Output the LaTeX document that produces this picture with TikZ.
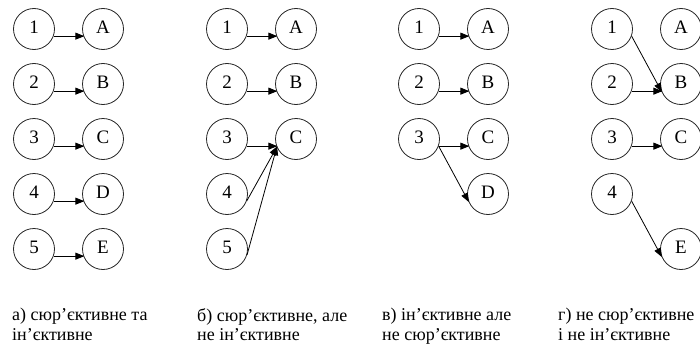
\documentclass[tikz,border=0pt]{standalone}
\usepackage{fontspec}
\setmainfont{Liberation Serif}
\usepackage{tikz}
\usetikzlibrary{arrows.meta}

\begin{document}
\begin{tikzpicture}[x=1pt,y=-1pt,
        elem/.style={circle, draw=black!85, line width=0.8pt, minimum size=41pt, inner sep=0pt,
          font=\fontsize{19}{19}\selectfont, text height=13pt, text depth=4pt},
        map/.style={-{Triangle[length=9pt,width=7pt]}, line width=0.8pt, shorten >=-1pt},
        note/.style={anchor=north west, inner sep=0pt, align=left, font=\fontsize{18}{19.5}\selectfont}]
        \clip (0,0) rectangle (700,345);
        % a) surjective and injective
        \node[elem] (a1) at (34,29) {1};
        \node[elem] (a2) at (34,84) {2};
        \node[elem] (a3) at (34,139) {3};
        \node[elem] (a4) at (34,194) {4};
        \node[elem] (a5) at (34,249) {5};
        \node[elem] (aA) at (103,29) {A};
        \node[elem] (aB) at (103,84) {B};
        \node[elem] (aC) at (103,139) {C};
        \node[elem] (aD) at (103,194) {D};
        \node[elem] (aE) at (103,249) {E};
        \draw[map] (a1.-20) -- (aA.200);
        \draw[map] (a2.-20) -- (aB.200);
        \draw[map] (a3.-20) -- (aC.200);
        \draw[map] (a4.-20) -- (aD.200);
        \draw[map] (a5.-20) -- (aE.200);
        \node[note] (na) at (12,308) {а) сюр’єктивне та\\ін’єктивне};
        % b) surjective, not injective
        \node[elem] (b1) at (227,29) {1};
        \node[elem] (b2) at (227,84) {2};
        \node[elem] (b3) at (227,139) {3};
        \node[elem] (b4) at (227,194) {4};
        \node[elem] (b5) at (227,249) {5};
        \node[elem] (bA) at (296,29) {A};
        \node[elem] (bB) at (296,84) {B};
        \node[elem] (bC) at (296,139) {C};
        \draw[map] (b1.-20) -- (bA.200);
        \draw[map] (b2.-20) -- (bB.200);
        \draw[map] (b3.-20) -- (bC.200);
        \draw[map] (b4.-20) -- (bC.203);
        \draw[map] (b5.-17) -- (bC.203);
        \node[note] (nb) at (197,308) {б) сюр’єктивне, але\\не ін’єктивне};
        % c) injective, not surjective
        \node[elem] (c1) at (419,29) {1};
        \node[elem] (c2) at (419,84) {2};
        \node[elem] (c3) at (419,139) {3};
        \node[elem] (cA) at (488,29) {A};
        \node[elem] (cB) at (488,84) {B};
        \node[elem] (cC) at (488,139) {C};
        \node[elem] (cD) at (488,194) {D};
        \draw[map] (c1.-20) -- (cA.200);
        \draw[map] (c2.-20) -- (cB.200);
        \draw[map] (c3.-20) -- (cC.200);
        \draw[map] (c3.-20) -- (cD.200);
        \node[note] (nc) at (382,308) {в) ін’єктивне але\\не сюр’єктивне};
        % d) neither
        \node[elem] (d1) at (612,29) {1};
        \node[elem] (d2) at (612,84) {2};
        \node[elem] (d3) at (612,139) {3};
        \node[elem] (d4) at (612,194) {4};
        \node[elem] (dA) at (681,29) {A};
        \node[elem] (dB) at (681,84) {B};
        \node[elem] (dC) at (681,139) {C};
        \node[elem] (dE) at (681,249) {E};
        \draw[map] (d1.-20) -- (dB.200);
        \draw[map] (d2.-20) -- (dB.200);
        \draw[map] (d3.-20) -- (dC.200);
        \draw[map] (d4.-20) -- (dE.200);
        \node[note] (nd) at (558,308) {г) не сюр’єктивне\\і не ін’єктивне};
      \end{tikzpicture}
\end{document}
